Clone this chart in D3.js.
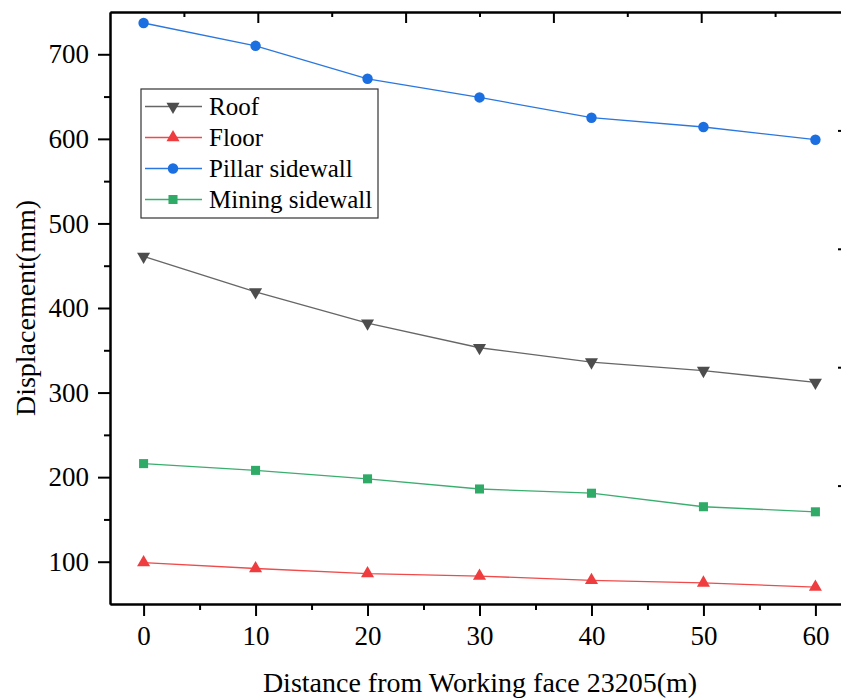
<!DOCTYPE html>
<html>
<head>
<meta charset="utf-8">
<script src="https://cdn.jsdelivr.net/npm/d3@7"></script>
<style>
  body { margin: 0; background: #fff; }
  svg text { font-family: "Liberation Serif", "Times New Roman", serif; fill: #000; }
</style>
</head>
<body>
<svg id="chart" width="841" height="699"></svg>
<script>
// distance from working face (m)
const distances = [0, 10, 20, 30, 40, 50, 60]
const roof = [461, 419, 382, 353, 336, 326, 312]
const floor = [99, 92, 86, 83, 78, 75, 70]
const pillarSidewall = [737, 710, 671, 649, 625, 614, 599]
const miningSidewall = [216, 208, 198, 186, 181, 165, 159]

const xTicks = [0, 10, 20, 30, 40, 50, 60]
const xMinorTicks = [5, 15, 25, 35, 45, 55]
const yTicks = [100, 200, 300, 400, 500, 600, 700]
const yMinorTicks = [150, 250, 350, 450, 550, 650]
// the frame's top and right edges carry their own even divisions
const frameTicks = [1, 2, 3, 4]
const frameMinorTicks = [0.5, 1.5, 2.5, 3.5, 4.5]

const series = [
    { name: 'Roof', values: roof, color: '#4d4d4d', line: '#666666', symbol: d3.symbolTriangle, rotate: 180, size: 74 },
    { name: 'Floor', values: floor, color: '#ef3d3f', line: '#f04a4a', symbol: d3.symbolTriangle, rotate: 0, size: 74 },
    { name: 'Pillar sidewall', values: pillarSidewall, color: '#1c6fe0', line: '#2a77e0', symbol: d3.symbolCircle, rotate: 0, size: 86 },
    { name: 'Mining sidewall', values: miningSidewall, color: '#2fab67', line: '#3aae6e', symbol: d3.symbolSquare, rotate: 0, size: 82 }
]

const plotLeft = 110, plotRight = 849, plotTop = 12, plotBottom = 604

const svg = d3.select('#chart')

const x = d3.scaleLinear().domain([-3, 63]).range([plotLeft, plotRight])
const y = d3.scaleLinear().domain([50, 750]).range([plotBottom, plotTop])
const frameX = d3.scaleLinear().domain([0, 5]).range([plotLeft, plotRight])
const frameY = d3.scaleLinear().domain([0, 5]).range([plotBottom, plotTop])

function styleAxis(g) {
    g.selectAll('path.domain').attr('stroke', '#000').attr('stroke-width', 2)
    g.selectAll('.tick line').attr('stroke', '#000').attr('stroke-width', 2)
    g.selectAll('.tick text')
        .style('font-family', '"Liberation Serif", "Times New Roman", serif')
        .style('font-size', '27px')
}

// bottom axis
svg.append('g')
    .attr('transform', `translate(0,${plotBottom})`)
    .call(d3.axisBottom(x).tickValues(xMinorTicks).tickSize(6).tickSizeOuter(0).tickFormat(''))
    .call(styleAxis)
svg.append('g')
    .attr('transform', `translate(0,${plotBottom})`)
    .call(d3.axisBottom(x).tickValues(xTicks).tickSize(12).tickSizeOuter(0).tickPadding(10))
    .call(styleAxis)

// left axis
svg.append('g')
    .attr('transform', `translate(${plotLeft},0)`)
    .call(d3.axisLeft(y).tickValues(yMinorTicks).tickSize(6).tickSizeOuter(0).tickFormat(''))
    .call(styleAxis)
svg.append('g')
    .attr('transform', `translate(${plotLeft},0)`)
    .call(d3.axisLeft(y).tickValues(yTicks).tickSize(12).tickSizeOuter(0).tickPadding(9))
    .call(styleAxis)

// top edge, ticks pointing in
svg.append('g')
    .attr('transform', `translate(0,${plotTop})`)
    .call(d3.axisBottom(frameX).tickValues(frameMinorTicks).tickSize(5).tickSizeOuter(0).tickFormat(''))
    .call(styleAxis)
svg.append('g')
    .attr('transform', `translate(0,${plotTop})`)
    .call(d3.axisBottom(frameX).tickValues(frameTicks).tickSize(11).tickSizeOuter(0).tickFormat(''))
    .call(styleAxis)

// right edge, ticks pointing in
svg.append('g')
    .attr('transform', `translate(${plotRight},0)`)
    .call(d3.axisLeft(frameY).tickValues(frameMinorTicks).tickSize(5).tickSizeOuter(0).tickFormat(''))
    .call(styleAxis)
svg.append('g')
    .attr('transform', `translate(${plotRight},0)`)
    .call(d3.axisLeft(frameY).tickValues(frameTicks).tickSize(11).tickSizeOuter(0).tickFormat(''))
    .call(styleAxis)

// axis titles
svg.append('text')
    .attr('x', 480)
    .attr('y', 692)
    .attr('text-anchor', 'middle')
    .style('font-size', '28px')
    .text('Distance from Working face 23205(m)')

svg.append('text')
    .attr('transform', `translate(35,${(plotTop + plotBottom) / 2}) rotate(-90)`)
    .attr('text-anchor', 'middle')
    .style('font-size', '28px')
    .text('Displacement(mm)')

// series
const line = d3.line().x((d, i) => x(distances[i])).y(d => y(d))

series.forEach(s => {
    svg.append('path')
        .datum(s.values)
        .attr('d', line)
        .attr('fill', 'none')
        .attr('stroke', s.line)
        .attr('stroke-width', 1.3)

    svg.selectAll(null)
        .data(s.values)
        .enter()
        .append('path')
        .attr('d', d3.symbol().type(s.symbol).size(s.size))
        .attr('transform', (d, i) => `translate(${x(distances[i])},${y(d)}) rotate(${s.rotate})`)
        .attr('fill', s.color)
})

// legend
const legend = svg.append('g').attr('transform', 'translate(141,89)')
legend.append('rect')
    .attr('width', 237)
    .attr('height', 129)
    .attr('fill', '#fff')
    .attr('stroke', '#333')
    .attr('stroke-width', 1.2)

series.forEach((s, i) => {
    const row = legend.append('g').attr('transform', `translate(0,${17.5 + i * 31})`)
    row.append('line')
        .attr('x1', 4).attr('x2', 61)
        .attr('stroke', s.line)
        .attr('stroke-width', 1.5)
    row.append('path')
        .attr('d', d3.symbol().type(s.symbol).size(s.size))
        .attr('transform', `translate(32,0) rotate(${s.rotate})`)
        .attr('fill', s.color)
    row.append('text')
        .attr('x', 68)
        .attr('dy', '0.34em')
        .style('font-size', '25px')
        .text(s.name)
})
</script>
</body>
</html>
